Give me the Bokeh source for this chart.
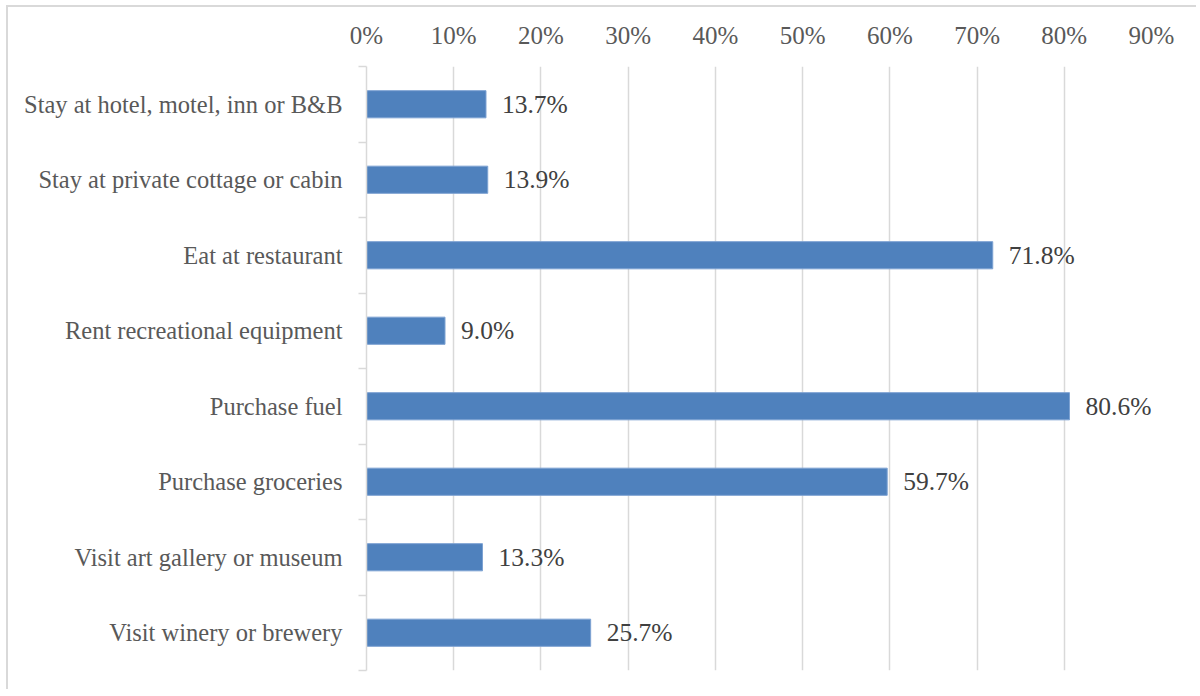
from bokeh.plotting import figure
from bokeh.models import Range1d, FixedTicker, NumeralTickFormatter, ColumnDataSource
from bokeh.core.properties import value
from bokeh.embed import file_html
from bokeh.resources import INLINE

categories = [
    "Stay at hotel, motel, inn or B&B",
    "Stay at private cottage or cabin",
    "Eat at restaurant",
    "Rent recreational equipment",
    "Purchase fuel",
    "Purchase groceries",
    "Visit art gallery or museum",
    "Visit winery or brewery",
]
values = [0.137, 0.139, 0.718, 0.090, 0.806, 0.597, 0.133, 0.257]
value_labels = ["13.7%", "13.9%", "71.8%", "9.0%", "80.6%", "59.7%", "13.3%", "25.7%"]
x_ticks = [0.0, 0.1, 0.2, 0.3, 0.4, 0.5, 0.6, 0.7, 0.8, 0.9]

n = len(categories)
ypos = [n - 1 - i for i in range(n)]
src = ColumnDataSource(dict(y=ypos, v=values, lab=value_labels))

FONT = "Liberation Serif"

p = figure(
    width=1190, height=684,
    x_range=Range1d(0, 0.9), y_range=Range1d(-0.5, n - 0.5),
    x_axis_location="above",
    output_backend="svg", toolbar_location=None,
    min_border_left=358, min_border_right=47, min_border_top=59, min_border_bottom=21,
)
p.styles = {"border-top": "2px solid #D9D9D9", "border-left": "2px solid #D9D9D9",
            "margin-left": "6px", "margin-top": "5px"}
p.outline_line_color = None

p.hbar(y="y", right="v", left=0, height=0.36, source=src,
       fill_color="#4F81BD", line_color="#7DA2D2", line_width=1)

p.text(x="v", y="y", text="lab", source=src, x_offset=16,
       text_font=value(FONT), text_font_size="25.5px", text_color="#404040",
       text_baseline="middle", text_align="left")

# x axis (top)
xa = p.xaxis[0]
xa.ticker = FixedTicker(ticks=x_ticks)
xa.formatter = NumeralTickFormatter(format="0%")
xa.axis_line_color = None
xa.major_tick_line_color = None
xa.minor_tick_line_color = None
xa.major_label_standoff = 12
xa.major_label_text_font = FONT
xa.major_label_text_font_size = "25px"
xa.major_label_text_color = "#595959"

# y axis (left)
ya = p.yaxis[0]
ya.ticker = FixedTicker(ticks=ypos, minor_ticks=[k - 0.5 for k in range(n + 1)])
ya.major_label_overrides = {y: c for y, c in zip(ypos, categories)}
ya.axis_line_color = "#D9D9D9"
ya.axis_line_width = 1.5
ya.major_tick_line_color = None
ya.major_tick_out = 0
ya.major_tick_in = 0
ya.minor_tick_line_color = "#D9D9D9"
ya.minor_tick_line_width = 1.5
ya.minor_tick_out = 8
ya.minor_tick_in = 0
ya.major_label_standoff = 16
ya.major_label_text_font = FONT
ya.major_label_text_font_size = "24.5px"
ya.major_label_text_color = "#595959"

p.xgrid.ticker = FixedTicker(ticks=x_ticks)
p.xgrid.grid_line_color = "#D9D9D9"
p.xgrid.grid_line_width = 1.5
p.ygrid.grid_line_color = None

open("out.html", "w").write(file_html(p, INLINE))
